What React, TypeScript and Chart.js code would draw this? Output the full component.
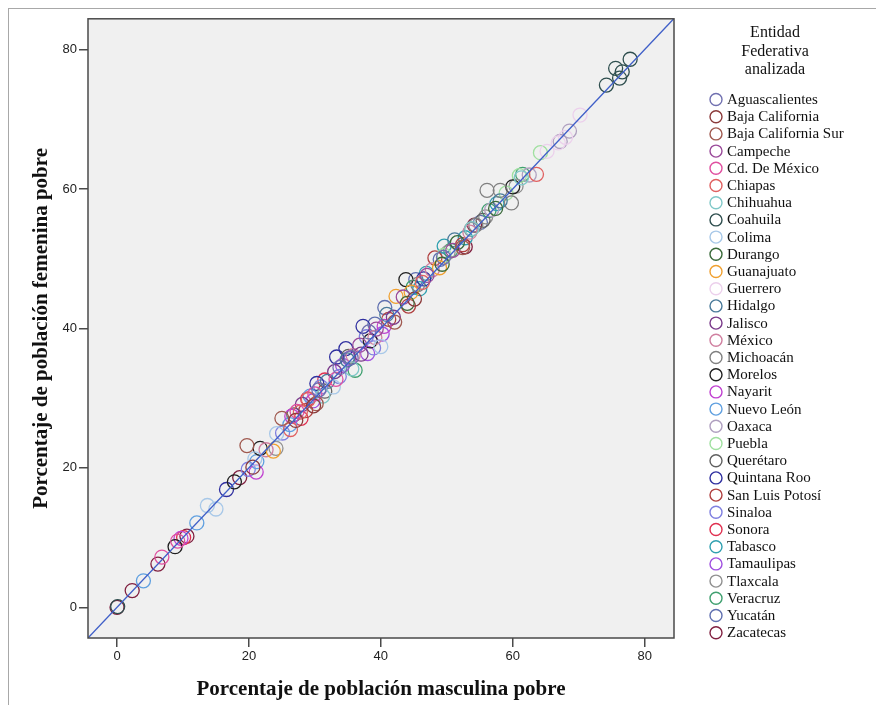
import React, { useEffect, useRef } from 'react';
import { Chart, registerables } from 'chart.js';

Chart.register(...registerables);

const X_MIN = -4.4;
const X_MAX = 84.45;
const Y_MIN = -4.4;
const Y_MAX = 84.4;
const AXIS_TICKS = [0, 20, 40, 60, 80];

const X_TITLE = 'Porcentaje de población masculina pobre';
const Y_TITLE = 'Porcentaje de población femenina pobre';
const LEGEND_TITLE = ['Entidad', 'Federativa', 'analizada'];

const STATES = [
  'Aguascalientes', 'Baja California', 'Baja California Sur', 'Campeche', 'Cd. De México', 'Chiapas',
  'Chihuahua', 'Coahuila', 'Colima', 'Durango', 'Guanajuato', 'Guerrero', 'Hidalgo', 'Jalisco',
  'México', 'Michoacán', 'Morelos', 'Nayarit', 'Nuevo León', 'Oaxaca', 'Puebla', 'Querétaro',
  'Quintana Roo', 'San Luis Potosí', 'Sinaloa', 'Sonora', 'Tabasco', 'Tamaulipas', 'Tlaxcala',
  'Veracruz', 'Yucatán', 'Zacatecas',
];

const COLORS = [
  '#7070b0', '#8b3a3a', '#a05a50', '#9a4a9a', '#e050a0', '#e06060', '#80c8c8', '#2f4f4f',
  '#a8c8e8', '#3a6a3a', '#f0a030', '#ecd0ec', '#4a7a9a', '#7a3a8a', '#d080a0', '#808080',
  '#202020', '#c040d0', '#60a0e0', '#b0a0c0', '#a0e0a0', '#606060', '#3030a0', '#b04040',
  '#8080e0', '#e03050', '#30a0b0', '#a050e0', '#909090', '#40a070', '#6070b0', '#802040',
];

// [masculina, femenina]
const aguascalientes = [[35.5, 35.8], [38.2, 39.5], [33.8, 34.4], [30.6, 31.2], [49.5, 50.2]];
const bajaCalifornia = [[27.1, 26.8], [29.8, 28.9], [20.6, 20.1], [45.1, 44.2]];
const bajaCaliforniaSur = [[19.7, 23.2], [25.0, 27.1], [30.2, 29.2], [42.1, 40.9], [52.4, 51.6]];
const campeche = [[43.4, 44.5], [47.0, 47.6], [39.3, 39.9], [36.8, 37.6], [50.9, 51.2]];
const cdMexico = [[27.3, 28.1], [30.0, 30.6], [33.2, 32.7], [9.2, 9.5], [6.8, 7.2]];
const chiapas = [[27.8, 28.0], [29.0, 29.8], [26.3, 25.5], [63.6, 62.1], [46.3, 46.6]];
const chihuahua = [[31.2, 30.3], [35.6, 34.2], [53.8, 54.3], [61.3, 61.6]];
const coahuila = [[74.2, 74.9], [75.6, 77.3], [76.2, 75.9], [77.8, 78.6], [76.6, 76.8], [0.1, 0.1]];
const colima = [[13.7, 14.6], [15.0, 14.1], [40.0, 37.4], [20.9, 21.3], [24.2, 24.9], [32.8, 31.6]];
const durango = [[51.6, 52.3], [44.0, 43.6], [49.3, 49.2], [57.4, 57.2]];
const guanajuato = [[23.7, 22.4], [42.3, 44.6], [44.6, 45.2], [48.9, 48.7]];
const guerrero = [[68.0, 67.4], [65.2, 65.4], [66.9, 66.6], [70.2, 70.6]];
const hidalgo = [[40.9, 42.0], [34.9, 35.5], [51.2, 52.7], [31.9, 32.4], [58.1, 58.3]];
const jalisco = [[28.1, 29.1], [37.0, 36.3], [41.9, 41.6], [33.0, 33.8]];
const mexico = [[35.8, 36.1], [39.1, 38.7], [47.8, 48.4], [53.5, 53.8], [22.6, 22.6]];
const michoacan = [[56.1, 59.8], [58.1, 59.8], [59.8, 58.0], [54.4, 54.8], [45.6, 46.3]];
const morelos = [[43.8, 47.0], [8.8, 8.7], [21.7, 22.8], [38.4, 38.2], [60.0, 60.3], [17.8, 18.0]];
const nayarit = [[21.1, 19.4], [26.5, 27.4], [40.5, 40.3], [9.7, 9.9]];
const nuevoLeon = [[21.2, 20.9], [26.2, 26.2], [4.0, 3.8], [12.1, 12.1], [29.3, 30.3]];
const oaxaca = [[67.2, 66.8], [68.6, 68.3], [62.5, 62.0], [56.8, 57.0]];
const puebla = [[64.2, 65.2], [61.0, 61.9], [59.0, 59.4], [49.6, 50.5]];
const queretaro = [[26.8, 27.6], [31.5, 31.0], [35.1, 36.0], [55.5, 55.5]];
const quintanaRoo = [[37.3, 40.3], [34.7, 37.1], [33.3, 35.9], [16.6, 16.9], [30.3, 32.1], [46.5, 47.1]];
const sanLuisPotosi = [[48.2, 50.1], [52.4, 52.0], [44.2, 43.2], [28.6, 28.2], [41.2, 41.3]];
const sinaloa = [[37.8, 38.8], [33.7, 33.1], [30.9, 31.6], [25.1, 25.0], [38.9, 37.2], [19.9, 19.8]];
const sonora = [[28.9, 29.9], [31.5, 32.6], [27.9, 27.1], [10.1, 10.0]];
const tabasco = [[49.6, 51.8], [52.8, 53.0], [46.9, 47.9], [57.6, 57.9], [45.9, 45.7]];
const tamaulipas = [[38.0, 36.4], [35.2, 35.7], [40.2, 39.2], [34.2, 34.7], [29.7, 29.6]];
const tlaxcala = [[50.2, 50.9], [53.7, 54.2], [55.9, 56.0], [60.5, 60.4], [24.1, 22.8]];
const veracruz = [[36.1, 34.0], [56.4, 56.9], [61.5, 62.1], [50.6, 51.2], [44.9, 45.9]];
const yucatan = [[40.6, 43.0], [39.1, 40.6], [45.3, 47.0], [49.0, 49.9], [55.1, 55.2]];
const zacatecas = [[0.0, 0.0], [2.3, 2.4], [6.2, 6.2], [10.6, 10.2], [52.8, 51.7], [54.2, 54.8], [18.6, 18.6]];

const SERIES = [
  aguascalientes, bajaCalifornia, bajaCaliforniaSur, campeche, cdMexico, chiapas, chihuahua, coahuila,
  colima, durango, guanajuato, guerrero, hidalgo, jalisco, mexico, michoacan, morelos, nayarit,
  nuevoLeon, oaxaca, puebla, queretaro, quintanaRoo, sanLuisPotosi, sinaloa, sonora, tabasco,
  tamaulipas, tlaxcala, veracruz, yucatan, zacatecas,
];

const sideLegend = {
  id: 'sideLegend',
  afterDraw(chart: any) {
    const ctx = chart.ctx as CanvasRenderingContext2D;
    const cx = chart.chartArea.right + 101;
    ctx.save();
    ctx.fillStyle = '#111111';
    ctx.font = '16px "Liberation Serif"';
    ctx.textAlign = 'center';
    ctx.textBaseline = 'middle';
    LEGEND_TITLE.forEach((t, i) => ctx.fillText(t, cx, 24 + i * 18.5));
    ctx.textAlign = 'left';
    ctx.font = '15px "Liberation Serif"';
    STATES.forEach((s, i) => {
      const y = 90.5 + i * 17.2;
      ctx.beginPath();
      ctx.arc(chart.chartArea.right + 42, y, 6, 0, Math.PI * 2);
      ctx.strokeStyle = COLORS[i];
      ctx.lineWidth = 1.4;
      ctx.stroke();
      ctx.fillStyle = '#111111';
      ctx.fillText(s, chart.chartArea.right + 53, y + 0.5);
    });
    ctx.restore();
  },
};

const plotBg = {
  id: 'plotBg',
  beforeDraw(chart: any) {
    const { ctx, chartArea } = chart;
    ctx.save();
    ctx.fillStyle = '#f0f0f0';
    ctx.fillRect(chartArea.left, chartArea.top, chartArea.right - chartArea.left, chartArea.bottom - chartArea.top);
    ctx.restore();
  },
  afterDraw(chart: any) {
    const { ctx, chartArea } = chart;
    ctx.save();
    ctx.strokeStyle = '#4a4a4a';
    ctx.lineWidth = 1.5;
    ctx.strokeRect(chartArea.left, chartArea.top, chartArea.right - chartArea.left, chartArea.bottom - chartArea.top);
    ctx.restore();
  },
};

export default function App() {
  const ref = useRef<HTMLCanvasElement>(null);

  useEffect(() => {
    if (!ref.current) return;
    const datasets: any[] = [
      {
        type: 'line',
        label: 'ref',
        data: [{ x: X_MIN, y: X_MIN }, { x: X_MAX, y: X_MAX }],
        borderColor: '#3f5fc8',
        borderWidth: 1.3,
        pointRadius: 0,
        order: -1,
      },
      ...SERIES.map((pts, i) => ({
        type: 'scatter',
        label: STATES[i],
        data: pts.map(([x, y]) => ({ x, y })),
        borderColor: COLORS[i],
        backgroundColor: 'rgba(0,0,0,0)',
        pointRadius: 7,
        pointBorderWidth: 1.3,
        pointHoverRadius: 7,
        order: 1,
      })),
    ];
    const tickFont = { family: '"Liberation Sans", Arial, sans-serif', size: 13 };
    const titleFont = { family: '"Liberation Serif", serif', size: 21, weight: 'bold' as const };
    const chart = new Chart(ref.current, {
      type: 'scatter',
      data: { datasets },
      plugins: [plotBg, sideLegend],
      options: {
        animation: false,
        responsive: false,
        maintainAspectRatio: false,
        layout: { padding: { top: 4, right: 210, left: 0, bottom: 0 } },
        plugins: { legend: { display: false }, tooltip: { enabled: false } },
        scales: {
          x: {
            type: 'linear',
            min: X_MIN,
            max: X_MAX,
            afterBuildTicks: (s: any) => { s.ticks = AXIS_TICKS.map((v) => ({ value: v })); },
            afterFit: (s: any) => { s.height = 67; },
            grid: { drawOnChartArea: false, drawTicks: true, tickLength: 9, color: '#4a4a4a', lineWidth: 1.5 },
            border: { display: false },
            ticks: { font: tickFont, color: '#222222', padding: 2, maxRotation: 0 },
            title: { display: true, text: X_TITLE, font: titleFont, color: '#111111', padding: { top: 4, bottom: 3 } },
          },
          y: {
            type: 'linear',
            min: Y_MIN,
            max: Y_MAX,
            afterBuildTicks: (s: any) => { s.ticks = AXIS_TICKS.map((v) => ({ value: v })); },
            afterFit: (s: any) => { s.width = 79; },
            grid: { drawOnChartArea: false, drawTicks: true, tickLength: 9, color: '#4a4a4a', lineWidth: 1.5 },
            border: { display: false },
            ticks: { font: tickFont, color: '#222222', padding: 2 },
            title: { display: true, text: Y_TITLE, font: titleFont, color: '#111111', padding: { top: 20, bottom: 0 } },
          },
        },
      } as any,
    });
    return () => chart.destroy();
  }, []);

  return (
    <div
      style={{
        width: 875,
        height: 696,
        borderTop: '1px solid #a8a8a8',
        borderLeft: '1px solid #a8a8a8',
        background: '#ffffff',
      }}
    >
      <canvas ref={ref} width={875} height={696} style={{ display: 'block', width: 875, height: 696 }} />
    </div>
  );
}
